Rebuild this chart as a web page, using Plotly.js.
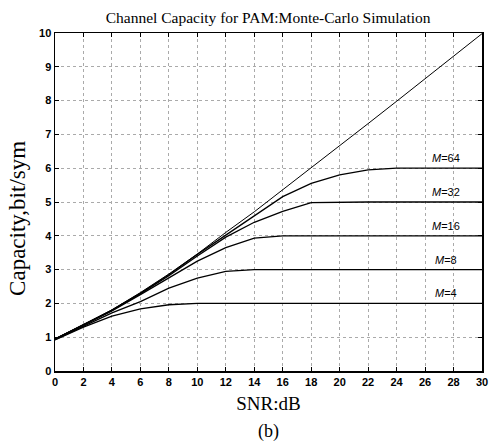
<!DOCTYPE html>
<html>
<head>
<meta charset="utf-8">
<script src="https://cdn.plot.ly/plotly-3.0.1.min.js"></script>
<style>html,body{margin:0;padding:0;background:#fff;}#chart{width:492px;height:444px;}</style>
</head>
<body>
<div id="chart"></div>
<script>
const snrDb = [0, 2, 4, 6, 8, 10, 12, 14, 16, 18, 20, 22, 24, 26, 28, 30];
const shannon = [0.95, 1.37, 1.81, 2.32, 2.87, 3.46, 4.1, 4.71, 5.36, 6.0, 6.66, 7.32, 7.98, 8.64, 9.3, 9.98];
const capM64 = [0.95, 1.36, 1.8, 2.3, 2.85, 3.45, 4.02, 4.6, 5.16, 5.55, 5.8, 5.95, 6.0, 6.0, 6.0, 6.0];
const capM32 = [0.95, 1.36, 1.79, 2.29, 2.82, 3.4, 3.96, 4.4, 4.72, 4.98, 5.0, 5.0, 5.0, 5.0, 5.0, 5.0];
const capM16 = [0.94, 1.35, 1.78, 2.26, 2.75, 3.25, 3.65, 3.93, 4.0, 4.0, 4.0, 4.0, 4.0, 4.0, 4.0, 4.0];
const capM8  = [0.93, 1.33, 1.72, 2.05, 2.45, 2.75, 2.95, 3.0, 3.0, 3.0, 3.0, 3.0, 3.0, 3.0, 3.0, 3.0];
const capM4  = [0.92, 1.3, 1.62, 1.84, 1.96, 2.0, 2.0, 2.0, 2.0, 2.0, 2.0, 2.0, 2.0, 2.0, 2.0, 2.0];
const seriesNames = ['Shannon', 'M=64', 'M=32', 'M=16', 'M=8', 'M=4'];
const labelTexts = ['<i>M</i>=64', '<i>M</i>=32', '<i>M</i>=16', '<i>M</i>=8', '<i>M</i>=4'];
const xTicks = [0, 2, 4, 6, 8, 10, 12, 14, 16, 18, 20, 22, 24, 26, 28, 30];
const yTicks = [0, 1, 2, 3, 4, 5, 6, 7, 8, 9, 10];

const allY = [shannon, capM64, capM32, capM16, capM8, capM4];
const traces = allY.map((ys, i) => ({
  x: snrDb, y: ys, type: 'scatter', mode: 'lines', name: seriesNames[i],
  line: {color: '#000', width: i === 0 ? 1 : 1.3},
  showlegend: false, hoverinfo: 'skip'
}));

const serif = 'Liberation Serif, Times New Roman, serif';
const mCurves = [capM64, capM32, capM16, capM8, capM4];
const annotations = mCurves.map((ys, i) => ({
  x: 27.5, y: ys[ys.length - 1], xref: 'x', yref: 'y',
  text: labelTexts[i], showarrow: false, yanchor: 'bottom', yshift: 2,
  font: {family: 'Liberation Sans, Arial, sans-serif', size: 11, color: '#000'}
}));
annotations.push({
  x: 0.5, y: 0, xref: 'paper', yref: 'paper', yshift: -48, yanchor: 'top',
  text: '(b)', showarrow: false,
  font: {family: serif, size: 18, color: '#000'}
});
annotations.push({
  x: 0, y: 0.45, xref: 'paper', yref: 'paper', xshift: -37, xanchor: 'center', yanchor: 'middle',
  text: 'Capacity,bit/sym', textangle: -90, showarrow: false,
  font: {family: serif, size: 23, color: '#000'}
});

const tickFont = {family: 'Liberation Sans Narrow, Liberation Sans, Arial, sans-serif', size: 11, color: '#000', weight: 'bold'};
const layout = {
  width: 492, height: 444,
  margin: {l: 55, r: 10, t: 33, b: 73},
  paper_bgcolor: '#fff', plot_bgcolor: '#fff',
  title: {text: 'Channel Capacity for PAM:Monte-Carlo Simulation', x: 0.545, xanchor: 'center', y: 0.96, yanchor: 'middle',
          font: {family: serif, size: 15.5, color: '#000'}},
  xaxis: {
    range: [0, 30], tickvals: xTicks, ticktext: xTicks.map(String),
    ticks: 'inside', ticklen: 4, tickcolor: '#000', mirror: 'ticks',
    showline: true, linecolor: '#000', linewidth: 1.5,
    showgrid: true, gridcolor: '#aaa', griddash: 'dot', gridwidth: 1,
    zeroline: false, tickfont: tickFont,
    title: {text: 'SNR:dB', standoff: 10, font: {family: serif, size: 19, color: '#000'}}
  },
  yaxis: {
    range: [0, 10], tickvals: yTicks, ticktext: yTicks.map(String),
    ticks: 'inside', ticklen: 4, tickcolor: '#000', mirror: 'ticks',
    showline: true, linecolor: '#000', linewidth: 1.5,
    showgrid: true, gridcolor: '#aaa', griddash: 'dot', gridwidth: 1,
    zeroline: false, tickfont: tickFont
  },
  annotations: annotations
};
Plotly.newPlot('chart', traces, layout, {staticPlot: true, displayModeBar: false});
</script>
</body>
</html>
